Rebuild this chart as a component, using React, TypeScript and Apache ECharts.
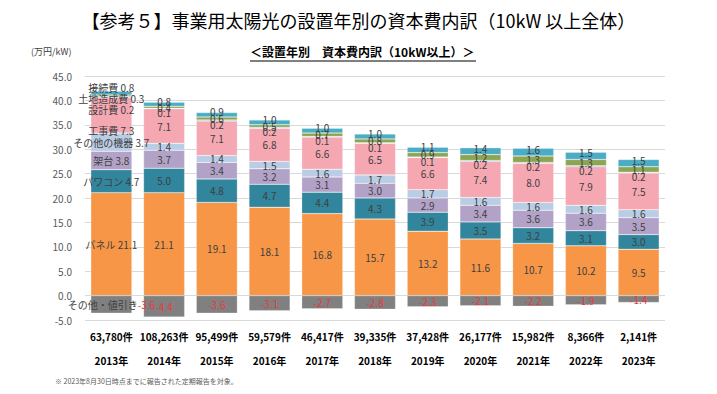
import React, { useEffect, useRef } from "react";
import * as echarts from "echarts";

const years = ["2013年", "2014年", "2015年", "2016年", "2017年", "2018年", "2019年", "2020年", "2021年", "2022年", "2023年"];
const counts = ["63,780件", "108,263件", "95,499件", "59,579件", "46,417件", "39,335件", "37,428件", "26,177件", "15,982件", "8,366件", "2,141件"];

const panel = [21.1, 21.1, 19.1, 18.1, 16.8, 15.7, 13.2, 11.6, 10.7, 10.2, 9.5];
const pcs = [4.7, 5.0, 4.8, 4.7, 4.4, 4.3, 3.9, 3.5, 3.2, 3.1, 3.0];
const mount = [3.8, 3.7, 3.4, 3.2, 3.1, 3.0, 2.9, 3.4, 3.6, 3.6, 3.5];
const otherEquip = [3.7, 1.4, 1.4, 1.5, 1.6, 1.7, 1.7, 1.6, 1.6, 1.6, 1.6];
const construction = [7.3, 7.1, 7.1, 6.8, 6.6, 6.5, 6.6, 7.4, 8.0, 7.9, 7.5];
const design = [0.2, 0.1, 0.2, 0.2, 0.1, 0.1, 0.1, 0.2, 0.2, 0.2, 0.2];
const land = [0.3, 0.4, 0.6, 0.5, 0.7, 0.8, 0.9, 1.2, 1.3, 1.3, 1.1];
const connection = [0.8, 0.8, 0.9, 1.0, 1.0, 1.0, 1.1, 1.4, 1.6, 1.5, 1.5];
const discount = [-3.6, -4.4, -3.6, -3.1, -2.7, -2.8, -2.3, -2.1, -2.2, -1.9, -1.4];

const yTicks = { min: -5, max: 45, interval: 5 };

const FONT = "'Noto Sans CJK JP', 'Noto Sans', sans-serif";

const seriesDefs = [
  { name: "パネル", data: panel, color: "#F79646", off: [0, 0], off0: [0, 0] },
  { name: "パワコン", data: pcs, color: "#31859C", off: [0, 0], off0: [0, 0] },
  { name: "架台", data: mount, color: "#B3A2C7", off: [0, 0], off0: [0, 0] },
  { name: "その他の機器", data: otherEquip, color: "#B9CDE5", off: [0, 0], off0: [0, 0] },
  { name: "工事費", data: construction, color: "#F5A7B2", off: [0, 0], off0: [0, 15] },
  { name: "設計費", data: design, color: "#7F9ED6", off: [0, 4], off0: [0, 13] },
  { name: "土地造成費", data: land, color: "#8BA552", off: [0, 0], off0: [0, 3] },
  { name: "接続費", data: connection, color: "#4BACC6", off: [0, -3], off0: [0, -6] },
  { name: "その他・値引き", data: discount, color: "#808080", off: [0, 0], off0: [0, 0] },
];

export default function App() {
  const ref = useRef<HTMLDivElement>(null);
  useEffect(() => {
    if (!ref.current) return;
    const chart = echarts.init(ref.current, undefined, { renderer: "svg" });
    const series = seriesDefs.map((s) => {
      const neg = s.name === "その他・値引き";
      return {
        name: s.name,
        type: "bar",
        stack: "total",
        barCategoryGap: "22%",
        data: s.data.map((v, i) => (i === 0 ? { value: v, label: { offset: s.off0 } } : v)),
        itemStyle: { color: s.color, borderColor: "rgba(255,255,255,0.5)", borderWidth: 0.5 },
        label: {
          show: true,
          position: "inside",
          offset: s.off,
          fontFamily: FONT,
          fontSize: 10,
          color: neg ? "#E8383D" : "#404040",
          formatter: (p: any) => {
            const v = Number(p.value).toFixed(1);
            if (p.dataIndex === 0) {
              return neg ? `{n|${s.name}}{v|${v}}` : `${s.name} ${v}`;
            }
            return v;
          },
          rich: {
            n: { color: "#404040", fontSize: 10, fontFamily: FONT },
            v: { color: "#E8383D", fontSize: 10, fontFamily: FONT },
          },
        },
      };
    });
    chart.setOption({
      animation: false,
      grid: { left: 85, right: 52, top: 76, bottom: 74 },
      title: {
        text: "【参考５】事業用太陽光の設置年別の資本費内訳（10kW 以上全体）",
        left: "center",
        top: 6,
        textStyle: { fontFamily: FONT, fontSize: 18, fontWeight: "normal", color: "#000" },
      },
      graphic: [
        {
          type: "text",
          left: 250,
          top: 45,
          style: { text: "＜設置年別　資本費内訳（10kW以上）＞", fontFamily: FONT, fontSize: 12, fontWeight: "bold", fill: "#000" },
        },
        {
          type: "line",
          shape: { x1: 250, y1: 61, x2: 476, y2: 61 },
          style: { stroke: "#000", lineWidth: 1 },
        },
        {
          type: "text",
          left: 31,
          top: 47,
          style: { text: "(万円/kW)", fontFamily: FONT, fontSize: 9, fill: "#404040" },
        },
        {
          type: "text",
          left: 55,
          top: 377,
          style: { text: "※ 2023年8月30日時点までに報告された定期報告を対象。", fontFamily: FONT, fontSize: 7, fill: "#595959" },
        },
      ],
      xAxis: {
        type: "category",
        data: years,
        axisLine: { show: false },
        axisTick: { show: false },
        axisLabel: {
          margin: 4,
          interval: 0,
          formatter: (v: string, i: number) => `{c|${counts[i]}}\n{y|${v}}`,
          rich: {
            c: { fontFamily: FONT, fontSize: 10, fontWeight: "bold", color: "#000", lineHeight: 24 },
            y: { fontFamily: FONT, fontSize: 10, fontWeight: "bold", color: "#000", lineHeight: 24 },
          },
        },
      },
      yAxis: {
        type: "value",
        min: yTicks.min,
        max: yTicks.max,
        interval: yTicks.interval,
        axisLine: { show: false },
        axisTick: { show: false },
        splitLine: { lineStyle: { color: "#D9D9D9" } },
        axisLabel: {
          margin: 13,
          fontFamily: FONT,
          fontSize: 10,
          color: "#595959",
          formatter: (v: number) => v.toFixed(1),
        },
      },
      series,
    });
    return () => chart.dispose();
  }, []);
  return <div ref={ref} style={{ position: "fixed", left: 0, top: 0, width: 717, height: 394, background: "#fff" }} />;
}
